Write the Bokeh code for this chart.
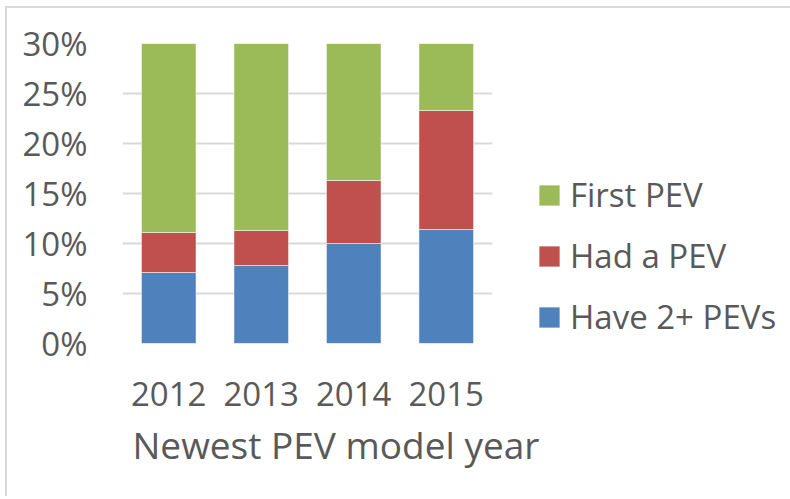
from bokeh.plotting import figure
from bokeh.models import (FactorRange, Range1d, FixedTicker, PrintfTickFormatter,
                          Legend, LegendItem, Title)
from bokeh.embed import file_html
from bokeh.resources import INLINE

years = ["2012", "2013", "2014", "2015"]
have_2plus = [7.1, 7.8, 10.0, 11.4]
had_a_pev = [4.0, 3.5, 6.3, 11.9]
first_pev = [88.9, 88.7, 83.7, 76.7]
y_ticks = [0, 5, 10, 15, 20, 25, 30]
series_names = ["Have 2+ PEVs", "Had a PEV", "First PEV"]
x_title = "Newest PEV model year"

colors = ["#4F81BD", "#C0504D", "#9BBB59"]
FONT = "Open Sans"
TXT = "#595959"

data = dict(year=years, have=have_2plus, had=had_a_pev, first=first_pev)

p = figure(x_range=FactorRange(*years, range_padding=0, factor_padding=0),
           y_range=Range1d(0, 30),
           width=780, height=488, frame_width=370, frame_height=300,
           min_border_left=115, min_border_top=35, min_border_bottom=153,
           min_border_right=295,
           output_backend="svg", toolbar_location=None,
           styles={"border-left": "2px solid #d9d9d9", "border-top": "2px solid #d9d9d9",
                   "margin-left": "5px", "margin-top": "6px"})

rs = p.vbar_stack(["have", "had", "first"], x="year", width=0.59, source=data,
                  color=colors, line_color="white", line_alpha=0.5, line_width=1)

p.outline_line_color = None
p.xgrid.grid_line_color = None
p.ygrid.grid_line_color = "#d9d9d9"
p.ygrid.grid_line_width = 2
p.ygrid.level = "underlay"

p.yaxis.ticker = FixedTicker(ticks=y_ticks)
p.yaxis.formatter = PrintfTickFormatter(format="%d%%")
for ax in (p.xaxis, p.yaxis):
    ax.axis_line_color = None
    ax.major_tick_line_color = None
    ax.minor_tick_line_color = None
    ax.major_tick_in = 0
    ax.major_tick_out = 0
    ax.major_label_text_font = FONT
    ax.major_label_text_font_size = "33px"
    ax.major_label_text_color = TXT
p.yaxis.major_label_standoff = 35
p.xaxis.major_label_standoff = 38

p.add_layout(Title(text=x_title, align="left", offset=10, text_font=FONT,
                   text_font_size="37px", text_color=TXT, text_font_style="normal",
                   standoff=16), "below")

legend = Legend(items=[LegendItem(label=series_names[2], renderers=[rs[2]]),
                       LegendItem(label=series_names[1], renderers=[rs[1]]),
                       LegendItem(label=series_names[0], renderers=[rs[0]])],
                location=(44, 4), orientation="vertical", padding=0, margin=0,
                border_line_color=None, background_fill_alpha=0,
                glyph_width=26, glyph_height=26, label_standoff=8,
                label_text_font=FONT, label_text_font_size="33px",
                label_text_color=TXT, spacing=16, label_height=21)
p.add_layout(legend, "right")

open("out.html", "w").write(file_html(p, INLINE))
